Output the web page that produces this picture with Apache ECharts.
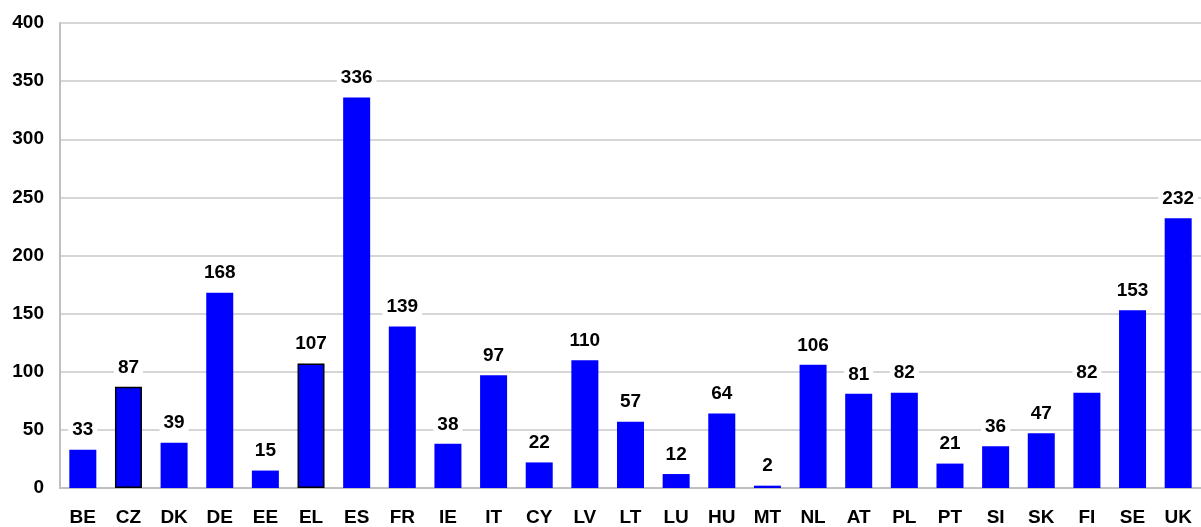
<!DOCTYPE html>
<html>
<head>
<meta charset="utf-8">
<script src="https://cdn.jsdelivr.net/npm/echarts@6/dist/echarts.min.js"></script>
<style>
  html, body { margin: 0; padding: 0; background: #fff; }
  #main { width: 1201px; height: 527px; }
</style>
</head>
<body>
<div id="main"></div>
<script>
const countries = ['BE', 'CZ', 'DK', 'DE', 'EE', 'EL', 'ES', 'FR', 'IE', 'IT', 'CY', 'LV', 'LT',
  'LU', 'HU', 'MT', 'NL', 'AT', 'PL', 'PT', 'SI', 'SK', 'FI', 'SE', 'UK'];
const values = [33, 87, 39, 168, 15, 107, 336, 139, 38, 97, 22, 110, 57,
  12, 64, 2, 106, 81, 82, 21, 36, 47, 82, 153, 232];
// bars drawn with a black outline in the original
const outlined = ['CZ', 'EL'];

const font = 'Liberation Sans, Arial, sans-serif';

const chart = echarts.init(document.getElementById('main'));
chart.setOption({
  animation: false,
  backgroundColor: '#fff',
  grid: { left: 60, right: -6, top: 23, bottom: 39 },
  xAxis: {
    type: 'category',
    data: countries,
    axisLine: { lineStyle: { color: '#c0c0c0', width: 2 } },
    axisTick: { show: false },
    axisLabel: { color: '#000', fontWeight: 'bold', fontSize: 19, fontFamily: font, margin: 20, interval: 0 }
  },
  yAxis: {
    type: 'value',
    min: 0,
    max: 400,
    interval: 50,
    axisLine: { show: true, lineStyle: { color: '#c0c0c0', width: 2 } },
    axisTick: { show: false },
    splitLine: { lineStyle: { color: '#c8c8c8', width: 1.5 } },
    axisLabel: { color: '#000', fontWeight: 'bold', fontSize: 19, fontFamily: font, margin: 16 }
  },
  series: [{
    type: 'bar',
    barWidth: 27,
    data: values.map((v, i) => ({
      value: v,
      itemStyle: outlined.includes(countries[i]) ? { borderColor: '#000', borderWidth: 1.5 } : {}
    })),
    itemStyle: { color: '#0000ff' },
    label: {
      show: true,
      position: 'top',
      distance: 9,
      color: '#000',
      fontWeight: 'bold',
      fontSize: 19,
      fontFamily: font,
      backgroundColor: '#fff',
      padding: [1, 4]
    }
  }]
});
</script>
</body>
</html>
